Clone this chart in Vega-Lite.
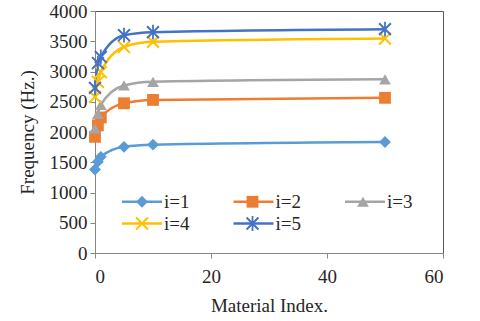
{
  "$schema": "https://vega.github.io/schema/vega-lite/v6.json",
  "width": 348,
  "height": 242,
  "autosize": {"type": "none"},
  "padding": {"left": 95, "top": 11, "right": 37, "bottom": 68},
  "background": "white",
  "config": {
    "view": {"stroke": "#595959", "strokeWidth": 1},
    "font": "Liberation Serif",
    "axis": {
      "labelFont": "Liberation Serif",
      "labelFontSize": 19,
      "labelColor": "#262626",
      "titleFont": "Liberation Serif",
      "titleFontSize": 19,
      "titleFontWeight": "normal",
      "titleColor": "#262626",
      "domainColor": "#868686",
      "tickColor": "#868686",
      "tickSize": 5,
      "grid": false
    },
    "legend": {
      "labelFont": "Liberation Serif",
      "labelFontSize": 19,
      "labelColor": "#262626"
    }
  },
  "data": {
    "values": [
      {"x": 0, "y": 1380, "i": "i=1"},
      {"x": 0.5, "y": 1510, "i": "i=1"},
      {"x": 1, "y": 1590, "i": "i=1"},
      {"x": 5, "y": 1755, "i": "i=1"},
      {"x": 10, "y": 1790, "i": "i=1"},
      {"x": 50, "y": 1835, "i": "i=1"},
      {"x": 0, "y": 1920, "i": "i=2"},
      {"x": 0.5, "y": 2110, "i": "i=2"},
      {"x": 1, "y": 2240, "i": "i=2"},
      {"x": 5, "y": 2475, "i": "i=2"},
      {"x": 10, "y": 2530, "i": "i=2"},
      {"x": 50, "y": 2565, "i": "i=2"},
      {"x": 0, "y": 2060, "i": "i=3"},
      {"x": 0.5, "y": 2300, "i": "i=3"},
      {"x": 1, "y": 2450, "i": "i=3"},
      {"x": 5, "y": 2770, "i": "i=3"},
      {"x": 10, "y": 2830, "i": "i=3"},
      {"x": 50, "y": 2870, "i": "i=3"},
      {"x": 0, "y": 2580, "i": "i=4"},
      {"x": 0.5, "y": 2830, "i": "i=4"},
      {"x": 1, "y": 2990, "i": "i=4"},
      {"x": 5, "y": 3405, "i": "i=4"},
      {"x": 10, "y": 3490, "i": "i=4"},
      {"x": 50, "y": 3545, "i": "i=4"},
      {"x": 0, "y": 2730, "i": "i=5"},
      {"x": 0.5, "y": 3140, "i": "i=5"},
      {"x": 1, "y": 3240, "i": "i=5"},
      {"x": 5, "y": 3600, "i": "i=5"},
      {"x": 10, "y": 3650, "i": "i=5"},
      {"x": 50, "y": 3700, "i": "i=5"}
    ]
  },
  "encoding": {
    "x": {
      "field": "x", "type": "quantitative",
      "scale": {"domain": [0, 60], "nice": false},
      "axis": {"values": [0, 20, 40, 60], "format": "d", "title": "Material Index.", "titlePadding": 10, "labelPadding": 9}
    },
    "y": {
      "field": "y", "type": "quantitative",
      "scale": {"domain": [0, 4000], "nice": false},
      "axis": {"values": [0, 500, 1000, 1500, 2000, 2500, 3000, 3500, 4000], "format": "d", "title": "Frequency (Hz.)", "titlePadding": 12, "labelPadding": 3}
    }
  },
  "layer": [
    {
      "mark": {"type": "line", "interpolate": "monotone", "strokeWidth": 2.5},
      "encoding": {
        "stroke": {
          "field": "i", "type": "nominal",
          "scale": {
            "domain": ["i=1", "i=2", "i=3", "i=4", "i=5"],
            "range": ["#5B9BD5", "#ED7D31", "#A5A5A5", "#FFC000", "#4472C4"]
          },
          "legend": {
            "title": null,
            "orient": "none",
            "legendX": 23,
            "legendY": 181,
            "direction": "horizontal",
            "columns": 3,
            "symbolType": "M-5,0L5,0",
            "symbolSize": 64,
            "symbolStrokeWidth": 2.5,
            "symbolOffset": 14.5,
            "columnPadding": 38.5,
            "rowPadding": 2,
            "labelOffset": 12.5
          }
        }
      }
    },
    {
      "mark": {"type": "point", "filled": true, "opacity": 1},
      "encoding": {
        "color": {
          "field": "i", "type": "nominal",
          "scale": {"range": ["#5B9BD5", "#ED7D31", "#A5A5A5", "#FFC000", "#4472C4"]},
          "legend": {
            "title": null,
            "orient": "none",
            "legendX": 23,
            "legendY": 181,
            "direction": "horizontal",
            "columns": 3,
            "symbolSize": 140,
            "symbolStrokeWidth": 0,
            "symbolOffset": 14.5,
            "columnPadding": 38.5,
            "rowPadding": 2,
            "labelOffset": 12.5,
            "labelOpacity": 0
          }
        },
        "shape": {
          "field": "i", "type": "nominal",
          "scale": {
            "range": [
              "diamond",
              "square",
              "triangle-up",
              "M-1.12,-0.88L-0.88,-1.12L1.12,0.88L0.88,1.12ZM0.88,-1.12L1.12,-0.88L-0.88,1.12L-1.12,0.88Z",
              "M-1.12,-0.88L-0.88,-1.12L1.12,0.88L0.88,1.12ZM0.88,-1.12L1.12,-0.88L-0.88,1.12L-1.12,0.88ZM-0.15,-1.25L0.15,-1.25L0.15,1.25L-0.15,1.25Z"
            ]
          },
          "legend": {
            "title": null,
            "orient": "none",
            "legendX": 23,
            "legendY": 181,
            "direction": "horizontal",
            "columns": 3,
            "symbolSize": 140,
            "symbolStrokeWidth": 0,
            "symbolOffset": 14.5,
            "columnPadding": 38.5,
            "rowPadding": 2,
            "labelOffset": 12.5,
            "labelOpacity": 0
          }
        },
        "size": {"value": 140}
      }
    }
  ]
}
